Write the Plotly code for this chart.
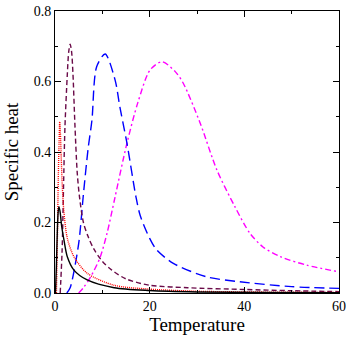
import plotly.graph_objects as go

# curve data
t_black = [0.1, 0.3, 0.5, 0.7, 0.85, 1.1, 1.4, 1.9, 2.6, 4.0, 6.8, 12.5, 20, 30, 45, 60]
c_black = [0.0, 0.08, 0.18, 0.235, 0.245, 0.228, 0.19, 0.15, 0.103, 0.065, 0.037, 0.015, 0.007, 0.003, 0.0015, 0.001]

t_red = [0.3, 0.5, 0.7, 0.85, 1.0, 1.15, 1.33, 1.55, 1.9, 2.6, 4.0, 6.8, 12.5, 20, 30, 45, 60]
c_red = [0.0, 0.15, 0.33, 0.42, 0.486, 0.45, 0.377, 0.3, 0.227, 0.155, 0.103, 0.056, 0.022, 0.011, 0.005, 0.0025, 0.0015]

t_maroon = [1.1, 1.5, 1.8, 2.1, 2.6, 2.9, 3.2, 3.5, 3.8, 4.2, 4.7, 5.2, 6.0, 7.0, 8.2, 10, 12, 15, 20, 28, 40, 50, 60]
c_maroon = [0.0, 0.12, 0.3, 0.47, 0.62, 0.685, 0.706, 0.685, 0.62, 0.48, 0.34, 0.27, 0.2, 0.16, 0.125, 0.09, 0.065, 0.04, 0.022, 0.015, 0.01, 0.0065, 0.004]

t_blue = [2.5, 3.2, 4.2, 5.1, 6.0, 7.0, 7.8, 8.8, 10.6, 12.7, 13.7, 15.2, 17.1, 18, 20, 21.5, 25, 32, 39, 50, 60]
c_blue = [0.0, 0.015, 0.075, 0.15, 0.28, 0.41, 0.49, 0.642, 0.678, 0.604, 0.528, 0.425, 0.273, 0.22, 0.155, 0.122, 0.084, 0.046, 0.032, 0.018, 0.013]

t_mag = [5, 6, 7.5, 9.5, 11, 12.7, 15.2, 17.5, 20.1, 22.6, 25.4, 27.1, 30.7, 34.2, 38, 41.2, 44, 47.6, 53.2, 60]
c_mag = [0.0, 0.015, 0.045, 0.1, 0.17, 0.273, 0.425, 0.54, 0.633, 0.656, 0.628, 0.595, 0.481, 0.349, 0.245, 0.169, 0.13, 0.103, 0.079, 0.06]

series = [
    (t_mag, c_mag, "#ff00ff", "6px,3px,2px,3px"),
    (t_blue, c_blue, "#0000ff", "10px,5px"),
    (t_maroon, c_maroon, "#6a0a48", "5px,3px"),
    (t_red, c_red, "#ff0000", "1px,1px"),
    (t_black, c_black, "black", "solid"),
]

fig = go.Figure()
for t, c, col, dash in series:
    fig.add_trace(go.Scatter(x=t, y=c, mode="lines",
                             line=dict(color=col, width=1.4, dash=dash,
                                       shape="spline", smoothing=0.8)))

axis_common = dict(showline=True, linecolor="black", linewidth=1, mirror="ticks",
                   ticks="inside", ticklen=6, tickcolor="black",
                   showgrid=False, zeroline=False, automargin=False,
                   tickfont=dict(family="Liberation Serif", size=14, color="black"))

fig.update_xaxes(range=[0, 60], tickvals=[0, 20, 40, 60],
                 minor=dict(ticks="inside", tickvals=[10, 30, 50], ticklen=3, tickcolor="black"),
                 title=dict(text="Temperature", font=dict(family="Liberation Serif", size=19, color="black"),
                            standoff=0),
                 **axis_common)
fig.update_yaxes(range=[0, 0.8], tickvals=[0, 0.2, 0.4, 0.6, 0.8], tickformat=".1f",
                 minor=dict(ticks="inside", tickvals=[0.1, 0.3, 0.5, 0.7], ticklen=3, tickcolor="black"),
                 title=dict(text="Specific heat", font=dict(family="Liberation Serif", size=19, color="black"),
                            standoff=10),
                 **axis_common)

fig.update_layout(width=346, height=346, showlegend=False,
                  margin=dict(l=55, r=7, t=11, b=53),
                  plot_bgcolor="white", paper_bgcolor="white")

# drop the default page margin so the figure sits at the window corner
fig.write_html("out.html", config={"displayModeBar": False},
               post_script="document.body.style.margin='0';")
